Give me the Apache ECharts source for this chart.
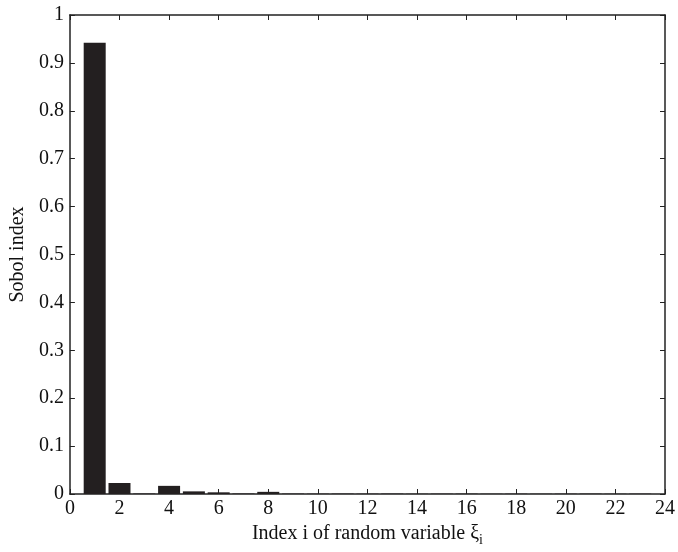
<!DOCTYPE html>
<html><head><meta charset="utf-8">
<script src="https://cdn.jsdelivr.net/npm/echarts@6/dist/echarts.min.js"></script>
<style>html,body{margin:0;padding:0;background:#fff}#c{width:678px;height:552px}</style>
</head><body><div id="c"></div>
<script>
const indices = [1,2,3,4,5,6,7,8,9,10,11,12,13,14,15,16,17,18,19,20,21,22,23];
const sobol = [0.942,0.023,0.001,0.017,0.0055,0.0035,0.001,0.0045,0.0008,0.0006,0.0008,0.0006,0.0008,0.0005,0.0006,0.0007,0.0005,0.0006,0.0005,0.0006,0.0007,0.0005,0.0006];
const xTicks = [0,2,4,6,8,10,12,14,16,18,20,22,24];
const yTicks = [0,0.1,0.2,0.3,0.4,0.5,0.6,0.7,0.8,0.9,1];

const font = 'Liberation Serif';
const chart = echarts.init(document.getElementById('c'));
const tick = {show:true, inside:true, length:5, lineStyle:{color:'#222', width:1}};
const line = {show:true, onZero:false, lineStyle:{color:'#222', width:1.5}};
chart.setOption({
  animation:false,
  grid:{left:65, right:9, top:15, bottom:53, containLabel:false},
  xAxis:[{
    type:'value', min:xTicks[0], max:xTicks[xTicks.length-1], interval:2,
    axisLine:line, axisTick:tick, splitLine:{show:false},
    axisLabel:{color:'#111', fontFamily:font, fontSize:20, margin:5},
    name:'Index i of random variable ξ{sub|i}', nameLocation:'middle', nameGap:27,
    nameTextStyle:{color:'#111', fontFamily:font, fontSize:20,
      rich:{sub:{fontFamily:font, fontSize:14, color:'#111', padding:[12,0,0,0]}}}
  },{
    type:'value', position:'top', min:xTicks[0], max:xTicks[xTicks.length-1], interval:2,
    axisLine:line, axisTick:tick, axisLabel:{show:false}, splitLine:{show:false}
  }],
  yAxis:[{
    type:'value', min:yTicks[0], max:yTicks[yTicks.length-1], interval:0.1,
    axisLine:line, axisTick:tick, splitLine:{show:false},
    axisLabel:{color:'#111', fontFamily:font, fontSize:20, margin:6},
    name:'Sobol index', nameLocation:'middle', nameGap:36,
    nameTextStyle:{color:'#111', fontFamily:font, fontSize:20}
  },{
    type:'value', position:'right', min:yTicks[0], max:yTicks[yTicks.length-1], interval:0.1,
    axisLine:line, axisTick:tick, axisLabel:{show:false}, splitLine:{show:false}
  }],
  series:[{
    type:'bar', barWidth:22,
    data: indices.map((v,i)=>[v, sobol[i]]),
    itemStyle:{color:'#231f20'}
  }]
});
</script></body></html>
